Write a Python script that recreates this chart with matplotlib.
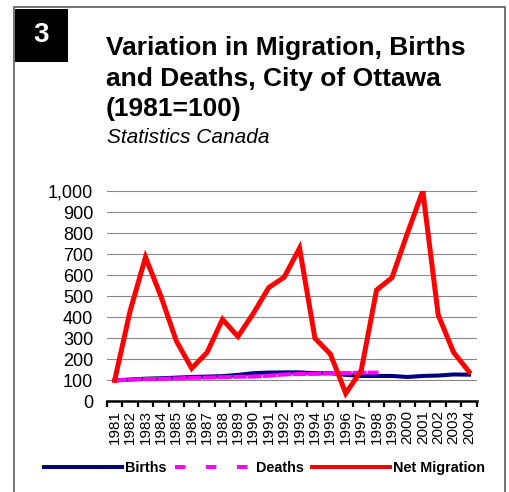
import matplotlib
matplotlib.use("Agg")
import matplotlib.pyplot as plt
from matplotlib.lines import Line2D
from matplotlib.patches import Rectangle
from matplotlib.ticker import FixedLocator, FuncFormatter

plt.rcParams['font.family'] = ['Liberation Sans', 'DejaVu Sans']
plt.rcParams['lines.scale_dashes'] = False

years = [str(y) for y in range(1981, 2005)]
births = [100, 104, 108, 110, 113, 116, 118, 120, 126, 134, 137, 138,
          138, 134, 134, 126, 121, 121, 121, 116, 121, 123, 128, 127]
deaths = [100, 103, 106, 107, 109, 112, 113, 115, 117, 118, 122, 128,
          130, 131, 133, 135, 136, 137]
net_migration = [100, 430, 685, 500, 287, 157, 233, 390, 308, 418, 541, 590,
                 728, 300, 225, 38, 146, 529, 588, 799, 1000, 411, 233, 141]

W, H = 510, 492
fig = plt.figure(figsize=(W / 100, H / 100), dpi=100)

# frame round the panel
fig.add_artist(Rectangle((14 / W, -0.05), (505 - 14) / W, 1.05 - 7.5 / H,
                         transform=fig.transFigure, fill=False,
                         edgecolor='#4d4d4d', lw=1.1))
# black number box
fig.add_artist(Rectangle((15 / W, 1 - 62 / H), 53 / W, 53 / H,
                         transform=fig.transFigure, color='black', lw=0))
fig.text(41.5 / W, 1 - 35.5 / H, '3', color='white', fontsize=20,
         fontweight='bold', ha='center', va='center')

title_lines = ['Variation in Migration, Births', 'and Deaths, City of Ottawa',
               '(1981=100)']
for txt, yb in zip(title_lines, [55, 86, 116]):
    fig.text(106 / W, 1 - yb / H, txt, fontsize=19, fontweight='bold',
             va='baseline', ha='left')
fig.text(107 / W, 1 - 143 / H, 'Statistics Canada', fontsize=15,
         fontstyle='italic', va='baseline', ha='left')

ax = fig.add_axes([107 / W, 1 - 401.4 / H, (476.7 - 107) / W, (401.4 - 191) / H])
x = list(range(len(years)))
ax.plot(x, births, color='#000080', lw=2.9, solid_joinstyle='round', zorder=3)
ax.plot(x[:len(deaths)], deaths, color='#FF00FF', lw=2.9, dashes=(7.2, 3.6),
        dash_capstyle='projecting', zorder=4)
ax.plot(x, net_migration, color='#FF0000', lw=3.6, solid_joinstyle='miter',
        zorder=5)

ax.set_xlim(-0.5, len(years) - 0.5)
ax.set_ylim(0, 1000)
ax.set_yticks(range(0, 1001, 100))
ax.yaxis.set_major_formatter(FuncFormatter(lambda v, p: f'{int(v):,}'))
ax.tick_params(axis='y', length=0, pad=10, labelsize=13)
ax.set_xticks(x)
ax.set_xticklabels(years, rotation=90, fontsize=11)
ax.xaxis.set_minor_locator(FixedLocator([i - 0.5 for i in range(len(years) + 1)]))
ax.tick_params(axis='x', which='major', length=0, pad=6)
ax.tick_params(axis='x', which='minor', length=4, width=1.6, direction='out')
ax.grid(axis='y', color='#888888', lw=0.8)
ax.set_axisbelow(True)
for s in ['left', 'right', 'top']:
    ax.spines[s].set_visible(False)
ax.spines['bottom'].set_linewidth(1.8)

handles = [Line2D([], [], color='#000080', lw=2.9),
           Line2D([], [], color='#FF00FF', lw=2.9, dashes=(7.5, 14.8),
                  dash_capstyle='butt'),
           Line2D([], [], color='#FF0000', lw=2.9)]
fig.legend(handles, ['Births', 'Deaths', 'Net Migration'], ncol=3,
           loc='center left', bbox_to_anchor=(44 / W, 1 - 468 / H),
           frameon=False, borderpad=0, borderaxespad=0,
           prop={'size': 10.4, 'weight': 'bold'}, handlelength=5.4,
           handletextpad=0.2, columnspacing=0.6)

fig.savefig('out.png', dpi=100)
